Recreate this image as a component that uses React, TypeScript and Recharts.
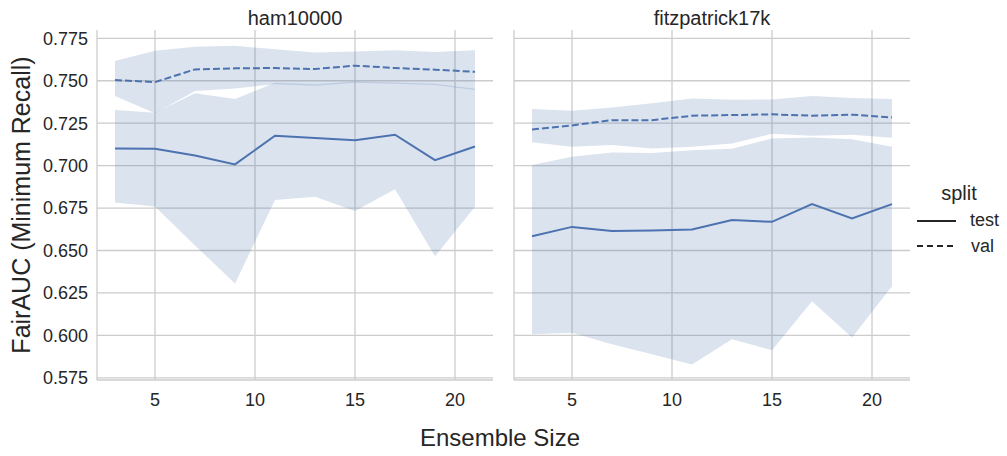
import React from 'react';
import { ComposedChart, Area, Line, XAxis, YAxis, CartesianGrid } from 'recharts';

// ensemble sizes on the x axis
const sizes = [3, 5, 7, 9, 11, 13, 15, 17, 19, 21];

// ham10000
const hamTestMean = [0.7101, 0.7099, 0.706, 0.7007, 0.7176, 0.7162, 0.715, 0.7182, 0.7032, 0.7113];
const hamTestLo = [0.6782, 0.6759, 0.653, 0.6306, 0.6797, 0.6816, 0.6732, 0.6861, 0.6466, 0.6757];
const hamTestHi = [0.7327, 0.7311, 0.7426, 0.7392, 0.7488, 0.7479, 0.7496, 0.749, 0.7483, 0.7453];
const hamValMean = [0.7504, 0.7492, 0.7567, 0.7573, 0.7575, 0.7569, 0.7589, 0.7575, 0.7565, 0.7553];
const hamValLo = [0.741, 0.7308, 0.7439, 0.7455, 0.748, 0.7471, 0.7488, 0.7482, 0.7475, 0.7445];
const hamValHi = [0.7616, 0.7677, 0.77, 0.7706, 0.7685, 0.7667, 0.7673, 0.7679, 0.7669, 0.7679];

// fitzpatrick17k
const fitzTestMean = [0.6584, 0.6639, 0.6615, 0.6618, 0.6624, 0.6679, 0.6669, 0.6773, 0.6689, 0.6773];
const fitzTestLo = [0.6006, 0.6016, 0.5948, 0.5889, 0.5828, 0.5977, 0.5912, 0.6201, 0.5987, 0.629];
const fitzTestHi = [0.7003, 0.7052, 0.7078, 0.7075, 0.7091, 0.7099, 0.716, 0.7166, 0.7156, 0.7111];
const fitzValMean = [0.7213, 0.7237, 0.7268, 0.7268, 0.7294, 0.7298, 0.7302, 0.7294, 0.73, 0.7284];
const fitzValLo = [0.7137, 0.7111, 0.7121, 0.7101, 0.7111, 0.7131, 0.7188, 0.7176, 0.7182, 0.7164];
const fitzValHi = [0.7333, 0.7323, 0.7343, 0.7367, 0.7396, 0.7388, 0.739, 0.741, 0.7398, 0.7392];

const xTicks = [5, 10, 15, 20];
const yTicks = [0.575, 0.6, 0.625, 0.65, 0.675, 0.7, 0.725, 0.75, 0.775];
const facetTitles = ['ham10000', 'fitzpatrick17k'];
const legendItems = ['test', 'val'];

const BLUE = '#4c72b0';
const GRID = '#cccccc';
const TEXT = '#262626';
const FONT = '"Liberation Sans", Arial, sans-serif';

const buildRows = (tm: number[], tl: number[], th: number[], vm: number[], vl: number[], vh: number[]) =>
  sizes.map((s, i) => ({
    size: s,
    test: tm[i],
    testBand: [tl[i], th[i]],
    val: vm[i],
    valBand: [vl[i], vh[i]],
  }));

const hamRows = buildRows(hamTestMean, hamTestLo, hamTestHi, hamValMean, hamValLo, hamValHi);
const fitzRows = buildRows(fitzTestMean, fitzTestLo, fitzTestHi, fitzValMean, fitzValLo, fitzValHi);

// shared-y facet: ticks still computed (for the grid) but not drawn
const NoTick = () => <g />;

const Facet = ({ rows, showY, width, left }: { rows: any[]; showY: boolean; width: number; left: number }) => (
  <div style={{ position: 'absolute', left, top: 0 }}>
    <ComposedChart
      width={width}
      height={456}
      data={rows}
      margin={{ top: 30, right: showY ? 7 : 97, bottom: 46, left: showY ? 0 : 13 }}
    >
      <CartesianGrid stroke={GRID} strokeWidth={1.3} syncWithTicks />
      <XAxis
        dataKey="size"
        type="number"
        domain={[2.1, 21.9]}
        ticks={xTicks}
        height={30}
        tickLine={false}
        tickSize={13}
        tickMargin={0}
        axisLine={{ stroke: GRID, strokeWidth: 1.3 }}
        tick={{ fill: TEXT, fontSize: 18, fontFamily: FONT }}
        allowDataOverflow
      />
      <YAxis
        type="number"
        domain={[0.5737, 0.7799]}
        ticks={yTicks}
        width={showY ? 97 : 1}
        tickLine={false}
        tickSize={9}
        tickMargin={0}
        axisLine={{ stroke: GRID, strokeWidth: 1.3 }}
        tick={showY ? { fill: TEXT, fontSize: 18, fontFamily: FONT } : <NoTick />}
        tickFormatter={(v: number) => v.toFixed(3)}
        allowDataOverflow
      />
      <Area dataKey="testBand" type="linear" stroke="none" fill={BLUE} fillOpacity={0.2} isAnimationActive={false} />
      <Area dataKey="valBand" type="linear" stroke="none" fill={BLUE} fillOpacity={0.2} isAnimationActive={false} />
      <Line dataKey="test" type="linear" stroke={BLUE} strokeWidth={2} dot={false} isAnimationActive={false} />
      <Line
        dataKey="val"
        type="linear"
        stroke={BLUE}
        strokeWidth={2}
        strokeDasharray="7 3"
        dot={false}
        isAnimationActive={false}
      />
    </ComposedChart>
  </div>
);

export default function App() {
  return (
    <div style={{ position: 'absolute', left: 0, top: 0, width: 1007, height: 456, background: '#fff' }}>
      <Facet rows={hamRows} showY width={500} left={0} />
      <Facet rows={fitzRows} showY={false} width={1007 - 500} left={500} />
      <svg
        width={1007}
        height={456}
        style={{ position: 'absolute', left: 0, top: 0, pointerEvents: 'none' }}
        fontFamily={FONT}
        fill={TEXT}
      >
        <text x={295} y={25} fontSize={20} textAnchor="middle">{facetTitles[0]}</text>
        <text x={712} y={25} fontSize={20} textAnchor="middle">{facetTitles[1]}</text>
        <text x={500} y={446} fontSize={24} textAnchor="middle">Ensemble Size</text>
        <text
          x={0}
          y={0}
          fontSize={25}
          textAnchor="middle"
          transform="translate(30 205) rotate(-90)"
        >
          FairAUC (Minimum Recall)
        </text>
        <text x={959} y={200} fontSize={20} textAnchor="middle">split</text>
        <line x1={917} x2={956} y1={221} y2={221} stroke={TEXT} strokeWidth={2} />
        <text x={970} y={226} fontSize={18}>{legendItems[0]}</text>
        <line x1={917} x2={956} y1={246} y2={246} stroke={TEXT} strokeWidth={2} strokeDasharray="6 4" />
        <text x={971} y={252} fontSize={18}>{legendItems[1]}</text>
      </svg>
    </div>
  );
}
